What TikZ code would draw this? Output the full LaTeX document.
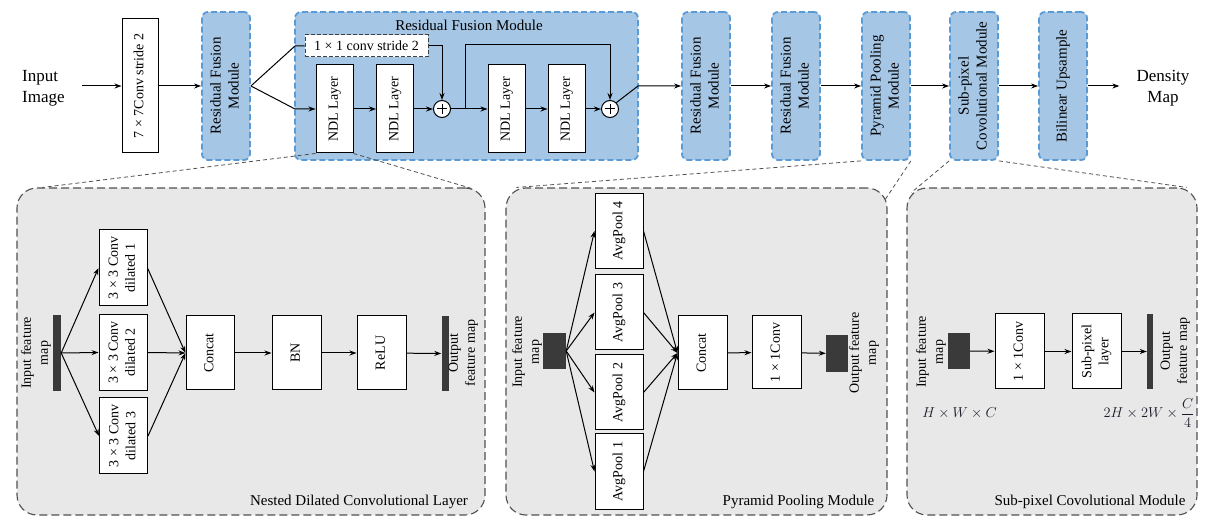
\documentclass[tikz,border=0pt]{standalone}
\usepackage{fontspec}
\setmainfont{Liberation Serif}
\usepackage{graphicx}
\usetikzlibrary{arrows.meta,calc}
\definecolor{bluefill}{HTML}{A5C6E5}
\definecolor{bluebd}{HTML}{5B9BD5}
\definecolor{panelfill}{HTML}{E8E8E8}
\definecolor{panelbd}{HTML}{505050}
\definecolor{fmapc}{HTML}{3A3A3A}
\definecolor{mathc}{HTML}{1B1B2A}
\newcommand\fsA{\fontsize{14}{17}\selectfont}
\newcommand\fsB{\fontsize{15}{18}\selectfont}
\newcommand\fsC{\fontsize{17}{21}\selectfont}
\newcommand\rot[1]{\rotatebox{90}{\begin{tabular}{@{}c@{}}#1\end{tabular}}}
\begin{document}
\begin{tikzpicture}[x=1pt,y=-1pt,
 box/.style={draw=black, fill=white, line width=1pt, inner sep=0pt, font=\fsA},
 bluebox/.style={draw=bluebd, fill=bluefill, dash pattern=on 6pt off 3pt, line width=1.8pt, rounded corners=6pt, inner sep=0pt, font=\fsB},
 panel/.style={draw=panelbd, fill=panelfill, dash pattern=on 8pt off 4pt, line width=1.1pt, rounded corners=20pt, inner sep=0pt},
 arr/.style={-{Stealth[length=7pt,width=5pt]}, line width=1pt},
 ln/.style={line width=1pt},
 zoomln/.style={draw=panelbd, dash pattern=on 4pt off 3pt, line width=0.8pt},
 fmap/.style={fill=fmapc, draw=none, inner sep=0pt},
 lbl/.style={font=\fsA, inner sep=0pt},
 plus/.style={circle, draw, fill=white, line width=1pt, minimum size=17pt, inner sep=0pt,
   path picture={\draw[line width=1pt] ([xshift=-5pt]path picture bounding box.center) -- ([xshift=5pt]path picture bounding box.center) ([yshift=-5pt]path picture bounding box.center) -- ([yshift=5pt]path picture bounding box.center);}},
]
\fill[white] (0,0) rectangle (1216,526);
\useasboundingbox (0,0) rectangle (1216,526);

% ---------- top row ----------
\node[bluebox, minimum width=343pt, minimum height=148pt] (rfmbig) at (466.5,86) {};
\node[font=\fsB, inner sep=0pt] (rfmtitle) at (469,25) {Residual Fusion Module};

\node[font=\fsC, align=left, anchor=west, inner sep=0pt] (inimg) at (22,88) {Input\\Image};
\coordinate (instart) at (82,86);
\node[box, minimum width=36pt, minimum height=134pt] (conv7) at (140,86) {\rot{7 × 7Conv stride 2}};
\node[bluebox, minimum width=48pt, minimum height=148pt] (rfm1) at (226,86) {\rot{Residual Fusion\\Module}};
\node[box, draw=black!75, dash pattern=on 4pt off 2pt, minimum width=123pt, minimum height=22pt] (c11) at (366.5,46) {1 × 1 conv stride 2};

\node[box, minimum width=37pt, minimum height=88pt] (ndl1) at (334.5,109) {\rot{NDL Layer}};
\node[box, minimum width=37pt, minimum height=88pt] (ndl2) at (395,109) {\rot{NDL Layer}};
\node[box, minimum width=37pt, minimum height=88pt] (ndl3) at (506.5,109) {\rot{NDL Layer}};
\node[box, minimum width=37pt, minimum height=88pt] (ndl4) at (566.5,109) {\rot{NDL Layer}};
\node[plus] (plus1) at (442,109) {};
\node[plus] (plus2) at (610,109) {};

\node[bluebox, minimum width=48pt, minimum height=148pt] (rfm2) at (706,86) {\rot{Residual Fusion\\Module}};
\node[bluebox, minimum width=48pt, minimum height=148pt] (rfm3) at (796,86) {\rot{Residual Fusion\\Module}};
\node[bluebox, minimum width=48pt, minimum height=148pt] (ppm) at (886,86) {\rot{Pyramid Pooling\\Module}};
\node[bluebox, minimum width=48pt, minimum height=148pt] (spc) at (974,86) {\rot{Sub-pixel\\Covolutional Module}};
\node[bluebox, minimum width=48pt, minimum height=148pt] (bil) at (1063,86) {\rot{Bilinear Upsample}};
\node[font=\fsC, align=center, inner sep=0pt] (density) at (1163,88) {Density\\Map};

\draw[arr] (instart) -- (conv7.west);
\draw[arr] (conv7.east) -- (rfm1.west);
\coordinate (sp1) at (295,46);
\coordinate (sp2) at (295,109);
\draw[ln] (rfm1.east) -- (sp1) -- (c11.west);
\draw[arr] (rfm1.east) -- (sp2) -- (ndl1.west);
\draw[arr] (ndl1) -- (ndl2);
\draw[arr] (ndl2) -- (plus1);
\draw[arr] (c11.east) -| (plus1.north);
\draw[arr] (plus1) -- (ndl3);
\coordinate (sk) at (465,109);
\draw[arr] (sk) -- ++(0,-64) -| (plus2.north);
\draw[arr] (ndl3) -- (ndl4);
\draw[arr] (ndl4) -- (plus2);
\coordinate (o1) at (638,86);
\draw[arr] (plus2.north east) -- (o1) -- (rfm2.west);
\draw[arr] (rfm2) -- (rfm3);
\draw[arr] (rfm3) -- (ppm);
\draw[arr] (ppm) -- (spc);
\draw[arr] (spc) -- (bil);
\draw[arr, shorten >=17pt] (bil.east) -- (density.west |- bil.east);

% ---------- panels ----------
\node[panel, minimum width=468pt, minimum height=327pt] (p1) at (251,351.5) {};
\node[panel, minimum width=381pt, minimum height=327pt] (p2) at (696.5,351.5) {};
\node[panel, minimum width=290pt, minimum height=327pt] (p3) at (1052,351.5) {};

\draw[zoomln] (ndl1.south west) -- ($(p1.north west)+(26,0)$);
\draw[zoomln] (ndl1.south east) -- ($(p1.north east)+(-14,1)$);
\draw[zoomln] (ppm.south west) -- ($(p2.north west)+(11,0)$);
\draw[zoomln] (ppm.south east) -- ($(p2.north east)+(-3,13)$);
\draw[zoomln] (spc.south west) -- ($(p3.north west)+(5,5)$);
\draw[zoomln] (spc.south east) -- ($(p3.north east)+(-11,0)$);

% ---------- panel 1 ----------
\node[fmap, minimum width=8pt, minimum height=76pt] (in1) at (57,353) {};
\node[lbl] (in1l) at (36,353) {\rot{Input feature\\map}};
\node[box, minimum width=48pt, minimum height=76pt] (d1) at (123,268) {\rot{3 × 3 Conv\\dilated 1}};
\node[box, minimum width=48pt, minimum height=76pt] (d2) at (123,352.5) {\rot{3 × 3 Conv\\dilated 2}};
\node[box, minimum width=48pt, minimum height=76pt] (d3) at (123.5,436) {\rot{3 × 3 Conv\\dilated 3}};
\node[box, minimum width=48pt, minimum height=74pt] (cat1) at (210,353) {\rot{Concat}};
\node[box, minimum width=49pt, minimum height=74pt] (bn) at (296.5,353) {\rot{BN}};
\node[box, minimum width=49pt, minimum height=74pt] (relu) at (381.5,353) {\rot{ReLU}};
\node[fmap, minimum width=7pt, minimum height=75pt] (out1) at (445,353.5) {};
\node[lbl] (out1l) at (463,353) {\rot{Output\\feature map}};
\draw[arr] (in1.east) -- (d1.west);
\draw[arr] (in1.east) -- (d2.west);
\draw[arr] (in1.east) -- (d3.west);
\draw[arr] (d1.east) -- (cat1.west);
\draw[arr] (d2.east) -- (cat1.west);
\draw[arr] (d3.east) -- (cat1.west);
\draw[arr] (cat1) -- (bn);
\draw[arr] (bn) -- (relu);
\draw[arr] (relu) -- (out1);
\node[font=\fsB, inner sep=0pt] (t1) at (359,502) {Nested Dilated Convolutional Layer};

% ---------- panel 2 ----------
\node[fmap, minimum width=23pt, minimum height=36pt] (in2) at (554.5,351) {};
\node[lbl] (in2l) at (527,352) {\rot{Input feature\\map}};
\node[box, minimum width=48pt, minimum height=75pt] (ap4) at (619,231) {\rot{AvgPool 4}};
\node[box, minimum width=48pt, minimum height=75pt] (ap3) at (619,312.5) {\rot{AvgPool 3}};
\node[box, minimum width=48pt, minimum height=75pt] (ap2) at (619,392.5) {\rot{AvgPool 2}};
\node[box, minimum width=48pt, minimum height=75pt] (ap1) at (619,471.5) {\rot{AvgPool 1}};
\node[box, minimum width=49pt, minimum height=74pt] (cat2) at (702.5,353) {\rot{Concat}};
\node[box, minimum width=49pt, minimum height=73pt] (cv2) at (776.5,352.5) {\rot{1 × 1Conv}};
\node[fmap, minimum width=22pt, minimum height=37pt] (out2) at (837,353.5) {};
\node[lbl] (out2l) at (864,353) {\rot{Output feature\\map}};
\foreach \a in {ap1,ap2,ap3,ap4} {
  \draw[arr] (in2.east) -- (\a.west);
  \draw[arr] (\a.east) -- (cat2.west);
}
\draw[arr] (cat2) -- (cv2);
\draw[arr] (cv2) -- (out2);
\node[font=\fsB, inner sep=0pt] (t2) at (798.5,502) {Pyramid Pooling Module};

% ---------- panel 3 ----------
\node[fmap, minimum width=22pt, minimum height=36pt] (in3) at (959,351) {};
\node[lbl] (in3l) at (931,352) {\rot{Input feature\\map}};
\node[box, minimum width=49pt, minimum height=75pt] (cv3) at (1019.5,351.5) {\rot{1 × 1Conv}};
\node[box, minimum width=49pt, minimum height=75pt] (sub) at (1096.5,351.5) {\rot{Sub-pixel\\layer}};
\node[fmap, minimum width=6pt, minimum height=75pt] (out3) at (1150,351.5) {};
\node[lbl] (out3l) at (1175,351) {\rot{Output\\feature map}};
\draw[arr] (in3) -- (cv3);
\draw[arr] (cv3) -- (sub);
\draw[arr] (sub) -- (out3);
\node[font=\fsA, text=mathc, inner sep=0pt] (hwc) at (959.5,413) {$H\times W\times C$};
\node[font=\fsA, text=mathc, inner sep=0pt] (hwc2) at (1149,413) {$2H\times 2W\times\displaystyle\frac{C}{4}$};
\node[font=\fsB, inner sep=0pt] (t3) at (1090,502) {Sub-pixel Covolutional Module};
\end{tikzpicture}
\end{document}
